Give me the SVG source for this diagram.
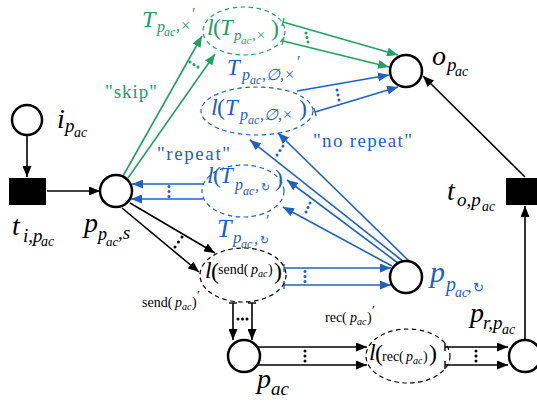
<svg xmlns="http://www.w3.org/2000/svg" width="537" height="407" viewBox="0 0 537 407">
<style>
.m{font-family:"Liberation Serif","DejaVu Serif",serif;font-style:italic}
.r{font-family:"Liberation Serif","DejaVu Serif",serif;font-style:normal}
.sy{font-family:"DejaVu Sans","Liberation Serif",sans-serif;font-style:normal}
.place{fill:#fff;stroke:#000;stroke-width:2.5}
.trans{fill:#000}
.dash{fill:none;stroke-width:1.2;stroke-dasharray:4.5 3.5}
.k{stroke:#000;stroke-width:1.6;fill:none}
.g{stroke:#22a063;stroke-width:1.6;fill:none}
.b{stroke:#1f60c0;stroke-width:1.6;fill:none}
.gt{fill:#22a063}
.bt{fill:#1f60c0}
.kt{fill:#000}
</style>
<defs>
<marker id="ak" viewBox="0 0 11 9" refX="11" refY="4.5" markerWidth="11" markerHeight="9" markerUnits="userSpaceOnUse" orient="auto"><path d="M0,0 L11,4.5 L0,9 z" fill="#000"/></marker>
<marker id="ag" viewBox="0 0 11 9" refX="11" refY="4.5" markerWidth="11" markerHeight="9" markerUnits="userSpaceOnUse" orient="auto"><path d="M0,0 L11,4.5 L0,9 z" fill="#22a063"/></marker>
<marker id="ab" viewBox="0 0 11 9" refX="11" refY="4.5" markerWidth="11" markerHeight="9" markerUnits="userSpaceOnUse" orient="auto"><path d="M0,0 L11,4.5 L0,9 z" fill="#1f60c0"/></marker>
<marker id="tk" viewBox="0 0 4 10" refX="2" refY="5" markerWidth="4" markerHeight="10" markerUnits="userSpaceOnUse" orient="auto"><path d="M2,1 L2,9" stroke="#000" stroke-width="1.4"/></marker>
<marker id="tg" viewBox="0 0 4 10" refX="2" refY="5" markerWidth="4" markerHeight="10" markerUnits="userSpaceOnUse" orient="auto"><path d="M2,1 L2,9" stroke="#22a063" stroke-width="1.4"/></marker>
<marker id="tb" viewBox="0 0 4 10" refX="2" refY="5" markerWidth="4" markerHeight="10" markerUnits="userSpaceOnUse" orient="auto"><path d="M2,1 L2,9" stroke="#1f60c0" stroke-width="1.4"/></marker>
</defs>

<g id="connectors">
<line class="k" x1="27" y1="136" x2="27" y2="177" marker-end="url(#ak)"/>
<line class="k" x1="47" y1="191" x2="100" y2="191" marker-end="url(#ak)"/>
<line class="k" x1="525" y1="177" x2="423" y2="76" marker-end="url(#ak)"/>
<line class="k" x1="525" y1="340" x2="525" y2="206" marker-end="url(#ak)"/>
<line class="k" x1="130" y1="203" x2="215" y2="253" marker-end="url(#ak)"/>
<line class="k" x1="122" y1="208" x2="199" y2="272" marker-end="url(#ak)"/>
<g class="kt"><circle cx="175" cy="247" r="1.5"/><circle cx="178.5" cy="242" r="1.5"/><circle cx="182" cy="237" r="1.5"/></g>
<line class="k" x1="233" y1="303" x2="233" y2="340" marker-start="url(#tk)" marker-end="url(#ak)"/>
<line class="k" x1="252" y1="303" x2="252" y2="340" marker-start="url(#tk)" marker-end="url(#ak)"/>
<g class="kt"><circle cx="238" cy="319" r="1.5"/><circle cx="242.5" cy="319" r="1.5"/><circle cx="247" cy="319" r="1.5"/></g>
<line class="k" x1="258" y1="347" x2="367" y2="347" marker-end="url(#ak)"/>
<line class="k" x1="258" y1="365" x2="367" y2="365" marker-end="url(#ak)"/>
<g class="kt"><circle cx="305" cy="351" r="1.5"/><circle cx="305" cy="356" r="1.5"/><circle cx="305" cy="361" r="1.5"/></g>
<line class="k" x1="445" y1="347" x2="508" y2="347" marker-start="url(#tk)" marker-end="url(#ak)"/>
<line class="k" x1="445" y1="365" x2="508" y2="365" marker-start="url(#tk)" marker-end="url(#ak)"/>
<g class="kt"><circle cx="476" cy="351" r="1.5"/><circle cx="476" cy="356" r="1.5"/><circle cx="476" cy="361" r="1.5"/></g>
<line class="g" x1="123" y1="176" x2="202" y2="36" marker-end="url(#ag)"/>
<line class="g" x1="128" y1="178" x2="215" y2="54" marker-end="url(#ag)"/>
<g class="gt"><circle cx="190" cy="62" r="1.5"/><circle cx="194" cy="64.5" r="1.5"/><circle cx="198" cy="67" r="1.5"/></g>
<line class="g" x1="283" y1="22" x2="398" y2="55" marker-start="url(#tg)" marker-end="url(#ag)"/>
<line class="g" x1="283" y1="41" x2="389" y2="67" marker-start="url(#tg)" marker-end="url(#ag)"/>
<g class="gt"><circle cx="306" cy="33" r="1.5"/><circle cx="307" cy="37.5" r="1.5"/><circle cx="308" cy="42" r="1.5"/></g>
<line class="b" x1="297" y1="91" x2="389" y2="75" marker-end="url(#ab)"/>
<line class="b" x1="315" y1="112" x2="398" y2="87" marker-start="url(#tb)" marker-end="url(#ab)"/>
<g class="bt"><circle cx="337" cy="90" r="1.5"/><circle cx="338" cy="95" r="1.5"/><circle cx="339" cy="100" r="1.5"/></g>
<line class="b" x1="404" y1="262" x2="250" y2="140" marker-end="url(#ab)"/>
<line class="b" x1="410" y1="262" x2="278" y2="133" marker-end="url(#ab)"/>
<g class="bt"><circle cx="277" cy="155" r="1.5"/><circle cx="280" cy="150.5" r="1.5"/><circle cx="283" cy="146" r="1.5"/></g>
<line class="b" x1="398" y1="263" x2="287" y2="180" marker-end="url(#ab)"/>
<line class="b" x1="392" y1="266" x2="283" y2="207" marker-end="url(#ab)"/>
<g class="bt"><circle cx="306" cy="212" r="1.5"/><circle cx="308" cy="207.5" r="1.5"/><circle cx="310" cy="203" r="1.5"/></g>
<line class="b" x1="203" y1="184" x2="132" y2="184" marker-end="url(#ab)"/>
<line class="b" x1="203" y1="199" x2="131" y2="199" marker-end="url(#ab)"/>
<g class="bt"><circle cx="169" cy="186.5" r="1.5"/><circle cx="169" cy="191.5" r="1.5"/><circle cx="169" cy="196.5" r="1.5"/></g>
<line class="b" x1="284" y1="268" x2="391" y2="268" marker-start="url(#tb)" marker-end="url(#ab)"/>
<line class="b" x1="284" y1="285" x2="391" y2="285" marker-start="url(#tb)" marker-end="url(#ab)"/>
<g class="bt"><circle cx="305" cy="271.5" r="1.5"/><circle cx="305" cy="276.5" r="1.5"/><circle cx="305" cy="281.5" r="1.5"/></g>
</g>

<g id="edge-labels">
<text class="r" x="105" y="98" font-size="19" textLength="52" fill="#22a063">"skip"</text>
<text class="r" x="157" y="160" font-size="19" textLength="73" fill="#1f60c0">"repeat"</text>
<text class="r" x="313" y="147" font-size="19" textLength="99" fill="#1f60c0">"no repeat"</text>
</g>

<g id="i_pac">
<circle class="place" cx="27" cy="120" r="15"/>
<text class="m"><tspan x="57" y="128" font-size="28">i</tspan><tspan x="65" y="132" font-size="19">p</tspan><tspan x="74" y="137" font-size="14">ac</tspan></text>
</g>
<g id="t_i">
<rect class="trans" x="9" y="178" width="37" height="27"/>
<text class="m"><tspan x="12" y="235" font-size="28">t</tspan><tspan x="23" y="242" font-size="19">i,p</tspan><tspan x="41" y="246" font-size="14">ac</tspan></text>
</g>
<g id="p_s">
<circle class="place" cx="116" cy="191" r="16"/>
<text class="m"><tspan x="84" y="232" font-size="28">p</tspan><tspan x="98" y="240" font-size="18">p</tspan><tspan x="106" y="246" font-size="13">ac</tspan><tspan x="118" y="239" font-size="19">,s</tspan></text>
</g>
<g id="o_pac">
<circle class="place" cx="406" cy="71" r="16"/>
<text class="m"><tspan x="432" y="65" font-size="28">o</tspan><tspan x="447" y="71" font-size="19">p</tspan><tspan x="455" y="76" font-size="14">ac</tspan></text>
</g>
<g id="t_o">
<rect class="trans" x="506" y="178" width="36" height="27"/>
<text class="m"><tspan x="447" y="200" font-size="28">t</tspan><tspan x="457" y="206" font-size="19">o,p</tspan><tspan x="482" y="211" font-size="14">ac</tspan></text>
</g>
<g id="p_loop">
<circle class="place" cx="406" cy="277" r="16" stroke="#1f60c0"/>
<text class="m" fill="#1f60c0"><tspan x="430" y="282" font-size="30">p</tspan><tspan x="446" y="291" font-size="20">p</tspan><tspan x="455" y="297" font-size="14">ac</tspan><tspan x="467" y="292" font-size="19">,</tspan><tspan class="sy" x="473" y="292" font-size="13">↻</tspan></text>
</g>
<g id="p_r">
<circle class="place" cx="525" cy="356" r="16"/>
<text class="m"><tspan x="470" y="322" font-size="28">p</tspan><tspan x="483" y="329" font-size="19">r,p</tspan><tspan x="502" y="334" font-size="14">ac</tspan></text>
</g>
<g id="p_ac">
<circle class="place" cx="244" cy="356" r="16"/>
<text class="m"><tspan x="257" y="388" font-size="28">p</tspan><tspan x="271" y="395" font-size="19">ac</tspan></text>
</g>

<g id="l_T_skip">
<ellipse class="dash" cx="244" cy="31" rx="41" ry="24" stroke="#22a063"/>
<text class="m" fill="#22a063"><tspan x="207" y="35" font-size="24">l</tspan><tspan class="r" x="213" y="35" font-size="24">(</tspan><tspan x="220" y="35" font-size="23">T</tspan><tspan x="234" y="40" font-size="15">p</tspan><tspan x="241" y="44" font-size="11">ac</tspan><tspan x="252" y="40" font-size="15">,×</tspan><tspan class="r" x="271" y="36" font-size="24">)</tspan></text>
<text class="m" fill="#22a063"><tspan x="142" y="27" font-size="24">T</tspan><tspan x="157" y="32" font-size="16">p</tspan><tspan x="164" y="36" font-size="12">ac</tspan><tspan x="176" y="31" font-size="16">,×</tspan><tspan class="r" x="192" y="19" font-size="16">′</tspan></text>
</g>
<g id="l_T_norepeat">
<ellipse class="dash" cx="257" cy="111" rx="56" ry="24" stroke="#1f60c0"/>
<text class="m" fill="#1f60c0"><tspan x="211" y="115" font-size="24">l</tspan><tspan class="r" x="217" y="115" font-size="24">(</tspan><tspan x="225" y="115" font-size="23">T</tspan><tspan x="240" y="120" font-size="16">p</tspan><tspan x="248" y="124" font-size="12">ac</tspan><tspan x="260" y="120" font-size="16">,∅,×</tspan><tspan class="r" x="299" y="116" font-size="24">)</tspan></text>
<text class="m" fill="#1f60c0"><tspan x="227" y="75" font-size="23">T</tspan><tspan x="242" y="80" font-size="16">p</tspan><tspan x="250" y="84" font-size="12">ac</tspan><tspan x="262" y="80" font-size="16">,∅,×</tspan><tspan class="r" x="297" y="67" font-size="16">′</tspan></text>
</g>
<g id="l_T_repeat">
<ellipse class="dash" cx="243" cy="191" rx="41" ry="26" stroke="#1f60c0"/>
<text class="m" fill="#1f60c0"><tspan x="207" y="183" font-size="24">l</tspan><tspan class="r" x="213" y="183" font-size="24">(</tspan><tspan x="220" y="183" font-size="23">T</tspan><tspan x="235" y="190" font-size="16">p</tspan><tspan x="243" y="195" font-size="12">ac</tspan><tspan x="255" y="191" font-size="16">,</tspan><tspan class="sy" x="261" y="191" font-size="11">↻</tspan><tspan class="r" x="275" y="186" font-size="24">)</tspan></text>
<text class="m" fill="#1f60c0"><tspan x="217" y="237" font-size="26">T</tspan><tspan x="233" y="243" font-size="17">p</tspan><tspan x="241" y="248" font-size="12">ac</tspan><tspan x="254" y="244" font-size="16">,</tspan><tspan class="sy" x="260" y="244" font-size="11">↻</tspan><tspan class="r" x="266" y="226" font-size="16">′</tspan></text>
</g>
<g id="l_send">
<ellipse class="dash" cx="243" cy="275" rx="43" ry="27" stroke="#000"/>
<text class="m" fill="#000"><tspan x="205" y="278" font-size="24">l</tspan><tspan class="r" x="211" y="279" font-size="24">(</tspan><tspan class="r" x="218" y="274" font-size="14">send(</tspan><tspan x="251" y="274" font-size="14">p</tspan><tspan x="258" y="277" font-size="10">ac</tspan><tspan class="r" x="268" y="274" font-size="14">)</tspan><tspan class="r" x="274" y="279" font-size="24">)</tspan></text>
<text fill="#000"><tspan class="r" x="142" y="307" font-size="14">send(</tspan><tspan class="m" x="175" y="307" font-size="14">p</tspan><tspan class="m" x="182" y="310" font-size="10">ac</tspan><tspan class="r" x="192" y="307" font-size="14">)</tspan><tspan class="r" x="197" y="299" font-size="13">′</tspan></text>
</g>
<g id="l_rec">
<ellipse class="dash" cx="408" cy="356" rx="42" ry="27" stroke="#000"/>
<text class="m" fill="#000"><tspan x="369" y="360" font-size="24">l</tspan><tspan class="r" x="375" y="361" font-size="24">(</tspan><tspan class="r" x="382" y="361" font-size="14">rec(</tspan><tspan x="406" y="361" font-size="14">p</tspan><tspan x="413" y="364" font-size="10">ac</tspan><tspan class="r" x="423" y="361" font-size="14">)</tspan><tspan class="r" x="429" y="361" font-size="24">)</tspan></text>
<text fill="#000"><tspan class="r" x="325" y="322" font-size="14">rec(</tspan><tspan class="m" x="350" y="322" font-size="14">p</tspan><tspan class="m" x="357" y="325" font-size="10">ac</tspan><tspan class="r" x="367" y="322" font-size="14">)</tspan><tspan class="r" x="372" y="314" font-size="13">′</tspan></text>
</g>
</svg>
